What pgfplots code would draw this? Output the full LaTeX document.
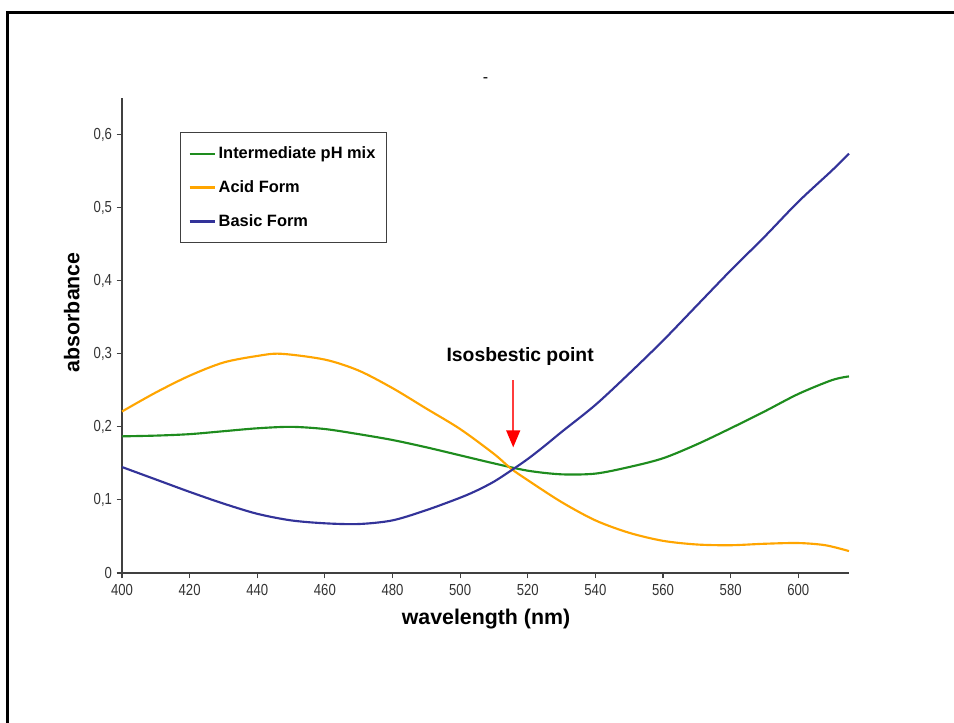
\documentclass[border=0pt]{standalone}
\usepackage{pgfplots}
\pgfplotsset{compat=1.18}
\usepackage{fontspec}
\setmainfont{Liberation Sans}
\newfontfamily\tickfont[FakeStretch=0.82]{Liberation Sans}
\definecolor{cgreen}{RGB}{30,140,30}
\definecolor{corange}{RGB}{255,165,0}
\definecolor{cblue}{RGB}{51,51,153}
\definecolor{cshaft}{RGB}{255,60,60}
\begin{document}
\begin{tikzpicture}
\useasboundingbox (-91.5pt,-112.5pt) rectangle (624pt,429.75pt);
\draw[line width=2.25pt,black] (-85.5pt,-140pt) -- (-85.5pt,420.4pt) -- (660pt,420.4pt);
\begin{axis}[
  at={(0,0)}, anchor=south west,
  scale only axis, width=545.25pt, height=356.25pt,
  xmin=400, xmax=615, ymin=0, ymax=0.65,
  axis x line*=bottom, axis y line*=left,
  axis line style={black!75, line width=0.8pt},
  tick style={black!75, line width=0.8pt},
  tick align=outside, major tick length=4pt,
  xtick={400,420,...,600}, ytick={0,0.1,...,0.6},
  /pgf/number format/assume math mode=true,
  /pgf/number format/use comma,
  /pgf/number format/fixed,
  yticklabel style={/pgf/number format/precision=1},
  ticklabel style={font=\tickfont\fontsize{12}{13}\selectfont, text=black!80},
  xticklabel style={yshift=-1pt},
  xlabel={\textbf{wavelength (nm)}},
  ylabel={\textbf{absorbance}},
  label style={font=\fontsize{16}{18}\selectfont},
  xlabel style={at={(axis description cs:0.5007,-0.0968)}, anchor=center},
  ylabel style={at={(axis description cs:-0.069,0.549)}, anchor=center},
  legend style={at={(0.0798,0.928)}, anchor=north west, draw=black!75, line width=0.8pt,
    font=\bfseries\fontsize{12.3}{14}\selectfont, row sep=11pt, inner xsep=6pt, inner ysep=8.5pt},
  legend cell align=left,
  legend image code/.code={\draw[#1, line width=1.6pt] (0pt,0pt) -- (19pt,0pt);},
  clip=false,
]
\addplot[cgreen, line width=1.6pt, smooth] coordinates {
(400,0.187) (410,0.188) (420,0.190) (430,0.194) (440,0.198) (450,0.200) (460,0.197)
(470,0.190) (480,0.182) (490,0.172) (500,0.161) (510,0.150) (520,0.140)
(530,0.135) (540,0.136) (550,0.145) (560,0.157) (570,0.176) (580,0.198)
(590,0.221) (600,0.245) (610,0.264) (615,0.269)};
\addlegendentry{Intermediate pH mix}
\addplot[corange, line width=1.6pt, smooth] coordinates {
(400,0.221) (410,0.247) (420,0.270) (430,0.288) (440,0.297) (447,0.300) (460,0.292)
(470,0.277) (480,0.253) (490,0.225) (500,0.197) (510,0.163) (515,0.143) (520,0.127)
(530,0.097) (540,0.072) (550,0.055) (560,0.044) (570,0.039) (580,0.038) (590,0.040)
(600,0.041) (608,0.038) (615,0.030)};
\addlegendentry{Acid Form}
\addplot[cblue, line width=1.6pt, smooth] coordinates {
(400,0.145) (410,0.128) (420,0.111) (430,0.095) (440,0.081) (450,0.072) (460,0.068)
(470,0.067) (480,0.072) (490,0.086) (500,0.103) (505,0.113) (510,0.125) (515,0.140)
(520,0.156) (525,0.174) (530,0.193) (540,0.230) (550,0.273) (560,0.318) (570,0.366)
(580,0.414) (590,0.460) (600,0.508) (610,0.551) (615,0.574)};
\addlegendentry{Basic Form}
\node[font=\bfseries\fontsize{14.5}{16}\selectfont] at (axis cs:517.75,0.2966) {Isosbestic point};
\draw[cshaft, line width=1.2pt] (axis cs:515.7,0.2638) -- (axis cs:515.7,0.19);
\fill[red] (axis cs:513.6,0.195) -- (axis cs:517.8,0.195) -- (axis cs:515.7,0.172) -- cycle;
\node[font=\fontsize{12}{14}\selectfont] at (axis cs:507.5,0.675) {-};
\end{axis}
\end{tikzpicture}
\end{document}
